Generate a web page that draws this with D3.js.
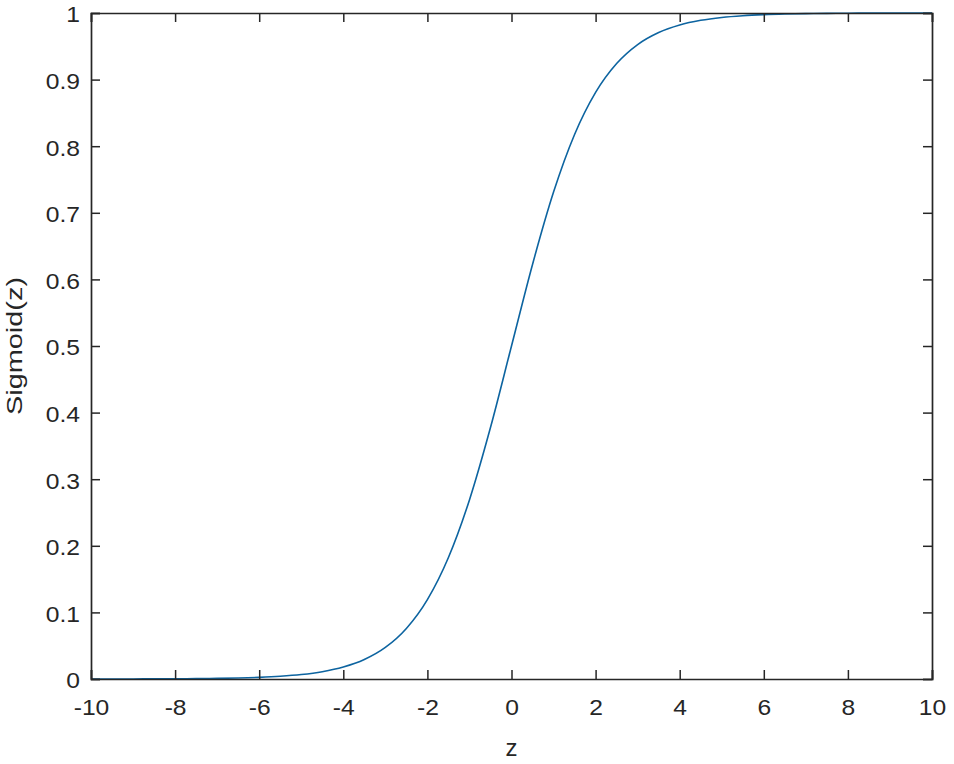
<!DOCTYPE html>
<html>
<head>
<meta charset="utf-8">
<script src="https://cdn.jsdelivr.net/npm/d3@7"></script>
<style>
html,body{margin:0;padding:0;background:#fff;}
svg{display:block;}
text{font-family:"Liberation Sans",Arial,sans-serif;fill:#262626;}
</style>
</head>
<body>
<svg id="chart" width="954" height="764"></svg>
<script>
// Data
const zValues = [-10,-9.5,-9,-8.5,-8,-7.5,-7,-6.5,-6,-5.5,-5,-4.5,-4,-3.5,-3,-2.5,-2,-1.5,-1,-0.5,0,0.5,1,1.5,2,2.5,3,3.5,4,4.5,5,5.5,6,6.5,7,7.5,8,8.5,9,9.5,10];
const sigmoidValues = [0.0000,0.0001,0.0001,0.0002,0.0003,0.0006,0.0009,0.0015,0.0025,0.0041,0.0067,0.0110,0.0180,0.0293,0.0474,0.0759,0.1192,0.1824,0.2689,0.3775,0.5000,0.6225,0.7311,0.8176,0.8808,0.9241,0.9526,0.9707,0.9820,0.9890,0.9933,0.9959,0.9975,0.9985,0.9991,0.9994,0.9997,0.9998,0.9999,0.9999,1.0000];
const xTicks = [-10,-8,-6,-4,-2,0,2,4,6,8,10];
const xTickLabels = ["-10","-8","-6","-4","-2","0","2","4","6","8","10"];
const yTicks = [0,0.1,0.2,0.3,0.4,0.5,0.6,0.7,0.8,0.9,1];
const yTickLabels = ["0","0.1","0.2","0.3","0.4","0.5","0.6","0.7","0.8","0.9","1"];
const xLabel = "z";
const yLabel = "Sigmoid(z)";

const svg = d3.select("#chart");
const W = 954, H = 764;
const m = {left:91, top:13, right:22, bottom:85};
const iw = W - m.left - m.right, ih = H - m.top - m.bottom;

const x = d3.scaleLinear().domain([-10,10]).range([0, iw]);
const y = d3.scaleLinear().domain([0,1]).range([ih, 0]);

const g = svg.append("g").attr("transform",`translate(${m.left},${m.top})`);

const axisColor = "#262626";
const tickLen = 9;
const fontFam = '"Liberation Sans",Arial,sans-serif';

// curve
const data = zValues.map((z,i)=>({z, s:sigmoidValues[i]}));
g.append("path")
  .datum(data)
  .attr("fill","none")
  .attr("stroke","#0d64a0")
  .attr("stroke-width",1.6)
  .attr("d", d3.line().x(d=>x(d.z)).y(d=>y(d.s)).curve(d3.curveMonotoneX));

// bottom axis (ticks inward)
const xb = g.append("g").attr("transform",`translate(0,${ih})`)
  .call(d3.axisBottom(x).tickValues(xTicks).tickSize(-tickLen).tickPadding(20)
    .tickFormat((d,i)=>xTickLabels[i]));
// top axis
const xt = g.append("g")
  .call(d3.axisTop(x).tickValues(xTicks).tickSize(-tickLen).tickFormat(""));
// left axis
const yl = g.append("g")
  .call(d3.axisLeft(y).tickValues(yTicks).tickSize(-tickLen).tickPadding(11)
    .tickFormat((d,i)=>yTickLabels[i]));
// right axis
const yr = g.append("g").attr("transform",`translate(${iw},0)`)
  .call(d3.axisRight(y).tickValues(yTicks).tickSize(-tickLen).tickFormat(""));

[xb,xt,yl,yr].forEach(a=>{
  a.selectAll("path.domain").attr("stroke",axisColor).attr("stroke-width",1.7);
  a.selectAll(".tick line").attr("stroke",axisColor).attr("stroke-width",1.5);
  a.selectAll("text").attr("font-size",22).attr("fill",axisColor).style("font-family",fontFam);
});
xb.selectAll("text").attr("dy","0.71em");
yl.selectAll("text").attr("dy","0.40em");

// slightly wider glyphs, like the reference
[xb,yl].forEach(a=>{
  a.selectAll("text").each(function(){
    const len = this.getComputedTextLength();
    d3.select(this).attr("textLength", len*1.12).attr("lengthAdjust","spacingAndGlyphs");
  });
});

// axis labels
svg.append("text")
  .attr("x", m.left + x(0))
  .attr("y", 756)
  .attr("text-anchor","middle")
  .attr("font-size",24)
  .text(xLabel);

const yl2 = svg.append("text")
  .attr("transform",`translate(22,${m.top + ih/2}) rotate(-90)`)
  .attr("text-anchor","middle")
  .attr("font-size",22)
  .text(yLabel);
yl2.attr("textLength",138).attr("lengthAdjust","spacingAndGlyphs");
</script>
</body>
</html>
